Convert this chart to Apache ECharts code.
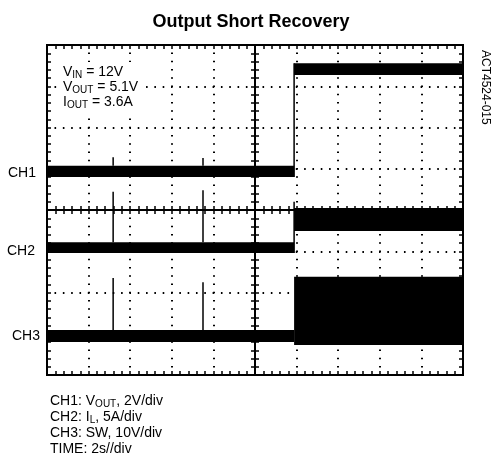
<!DOCTYPE html>
<html>
<head>
<meta charset="utf-8">
<title>Output Short Recovery</title>
<script src="https://cdn.jsdelivr.net/npm/echarts@6/dist/echarts.min.js"></script>
<style>
    html, body { margin: 0; padding: 0; background: #fff; }
    #scope { width: 492px; height: 464px; }
</style>
</head>
<body>
<div id="scope"></div>
<script>
/*------------------------------- 数据（单位：格，屏幕中心为 0） -------------------------------*/
// 横轴 10 格，纵轴 8 格
var xDivs = [-5, 5];
var yDivs = [-4, 4];

// 粗带：[起点x, 终点x, 下沿y, 上沿y]
var ch1Bands = [[-5, 0.94, 0.80, 1.07], [0.94, 5, 3.27, 3.56]];
var ch2Bands = [[-5, 0.94, -1.04, -0.78], [0.94, 5, -0.51, 0.05]];
var ch3Bands = [[-5, 0.94, -3.20, -2.91], [0.94, 5, -3.27, -1.62]];

// 细线（跳变沿和尖峰）：[x, 起点y, 终点y]
var ch1Lines = [[0.94, 0.80, 3.56], [-3.41, 1.07, 1.28], [-1.25, 1.07, 1.26]];
var ch2Lines = [[0.94, -1.04, 0.20], [-3.41, -0.78, 0.44], [-1.25, -0.78, 0.48]];
var ch3Lines = [[-3.41, -2.91, -1.65], [-1.25, -2.91, -1.75]];

var chNames = ['CH1', 'CH2', 'CH3'];
var notes = ['V_IN = 12V', 'V_OUT = 5.1V', 'I_OUT = 3.6A'];
var legendLines = ['CH1: V_OUT, 2V/div', 'CH2: I_L, 5A/div', 'CH3: SW, 10V/div', 'TIME: 2s//div'];

var FONT = '"Liberation Sans", Arial, sans-serif';

// "V_IN" -> {n|V}{s|IN}
function subText(s) {
    var parts = s.split(/_([A-Z]+)/);
    var out = '';
    for (var i = 0; i < parts.length; i++) {
        if (parts[i] === '') continue;
        out += (i % 2 ? '{s|' : '{n|') + parts[i] + '}';
    }
    return out;
}

function renderBand(params, api) {
    var p0 = api.coord([api.value(0), api.value(3)]);
    var p1 = api.coord([api.value(1), api.value(2)]);
    return {
        type: 'rect',
        shape: { x: p0[0], y: p0[1], width: p1[0] - p0[0], height: p1[1] - p0[1] },
        style: { fill: '#000' }
    };
}

function renderLine(params, api) {
    var a = api.coord([api.value(0), api.value(1)]);
    var b = api.coord([api.value(0), api.value(2)]);
    return {
        type: 'line',
        shape: { x1: a[0], y1: a[1], x2: b[0], y2: b[1] },
        style: { stroke: '#000', lineWidth: 1.5 }
    };
}

// 坐标轴：中心十字线两侧刻度 + 四边内刻度
function scopeAxis(dim, position, onZero, isMain) {
    var range = dim === 'x' ? xDivs : yDivs;
    return {
        type: 'value',
        min: range[0],
        max: range[1],
        interval: 1,
        position: position,
        axisLine: {
            show: onZero,
            onZero: onZero,
            onZeroAxisIndex: 0,
            lineStyle: { color: '#000', width: 2 }
        },
        axisTick: { show: true, inside: true, length: 4, lineStyle: { color: '#000', width: 1.5 } },
        minorTick: { show: true, splitNumber: 5, length: 4, lineStyle: { color: '#000', width: 1.5 } },
        axisLabel: { show: false },
        splitLine: {
            show: isMain,
            lineStyle: {
                color: '#000',
                width: 2,
                type: dim === 'x' ? [1.6, 6.65] : [1.6, 6.72],
                dashOffset: 0.8
            }
        }
    };
}

function scopeOption() {
    var graphics = [];

    graphics.push({
        type: 'text', x: 251, y: 22,
        style: { text: 'Output Short Recovery', font: 'bold 18px ' + FONT, fill: '#000', align: 'center', verticalAlign: 'middle' }
    });
    graphics.push({
        type: 'text', x: 485, y: 50, rotation: -Math.PI / 2,
        style: { text: 'ACT4524-015', font: '12px ' + FONT, fill: '#000', align: 'left', verticalAlign: 'middle' }
    });

    var chY = [173, 251, 336];
    var chX = [8, 7, 12];
    for (var i = 0; i < chNames.length; i++) {
        graphics.push({
            type: 'text', x: chX[i], y: chY[i],
            style: { text: chNames[i], font: '14px ' + FONT, fill: '#000', align: 'left', verticalAlign: 'middle' }
        });
    }

    var rich = {
        n: { fontSize: 14, fontFamily: FONT, lineHeight: 15, color: '#000' },
        s: { fontSize: 10, fontFamily: FONT, lineHeight: 8, verticalAlign: 'bottom', color: '#000' }
    };
    // 参数说明带白底，盖住网格点
    graphics.push({
        type: 'text', x: 59, y: 62, z: 10,
        style: {
            text: notes.map(subText).join('\n'), rich: rich,
            align: 'left', verticalAlign: 'top',
            backgroundColor: '#fff', padding: [3, 6, 3, 4]
        }
    });

    var rich2 = {
        n: { fontSize: 14, fontFamily: FONT, lineHeight: 16, color: '#000' },
        s: { fontSize: 10, fontFamily: FONT, lineHeight: 9, verticalAlign: 'bottom', color: '#000' }
    };
    graphics.push({
        type: 'text', x: 50, y: 393,
        style: { text: legendLines.map(subText).join('\n'), rich: rich2, align: 'left', verticalAlign: 'top' }
    });

    var bandSets = [ch1Bands, ch2Bands, ch3Bands];
    var lineSets = [ch1Lines, ch2Lines, ch3Lines];
    var series = [];
    for (var k = 0; k < 3; k++) {
        series.push({
            name: chNames[k] + ' band',
            type: 'custom',
            renderItem: renderBand,
            encode: { x: [0, 1], y: [2, 3] },
            data: bandSets[k],
            silent: true
        });
        series.push({
            name: chNames[k] + ' line',
            type: 'custom',
            renderItem: renderLine,
            encode: { x: 0, y: [1, 2] },
            data: lineSets[k],
            silent: true
        });
    }

    var option = {
        backgroundColor: '#fff',
        animation: false,
        grid: {
            show: true,
            left: 47,
            right: 29,
            top: 45,
            bottom: 89,
            borderColor: '#000',
            borderWidth: 2,
            backgroundColor: 'transparent'
        },
        xAxis: [
            scopeAxis('x', 'bottom', true, true),
            scopeAxis('x', 'top', true, false),
            scopeAxis('x', 'top', false, false),
            scopeAxis('x', 'bottom', false, false)
        ],
        yAxis: [
            scopeAxis('y', 'left', true, true),
            scopeAxis('y', 'right', true, false),
            scopeAxis('y', 'left', false, false),
            scopeAxis('y', 'right', false, false)
        ],
        graphic: graphics,
        series: series
    };
    return option;
}

var scopeChart = echarts.init(document.getElementById('scope'), null, { renderer: 'canvas' });
scopeChart.setOption(scopeOption());
</script>
</body>
</html>
